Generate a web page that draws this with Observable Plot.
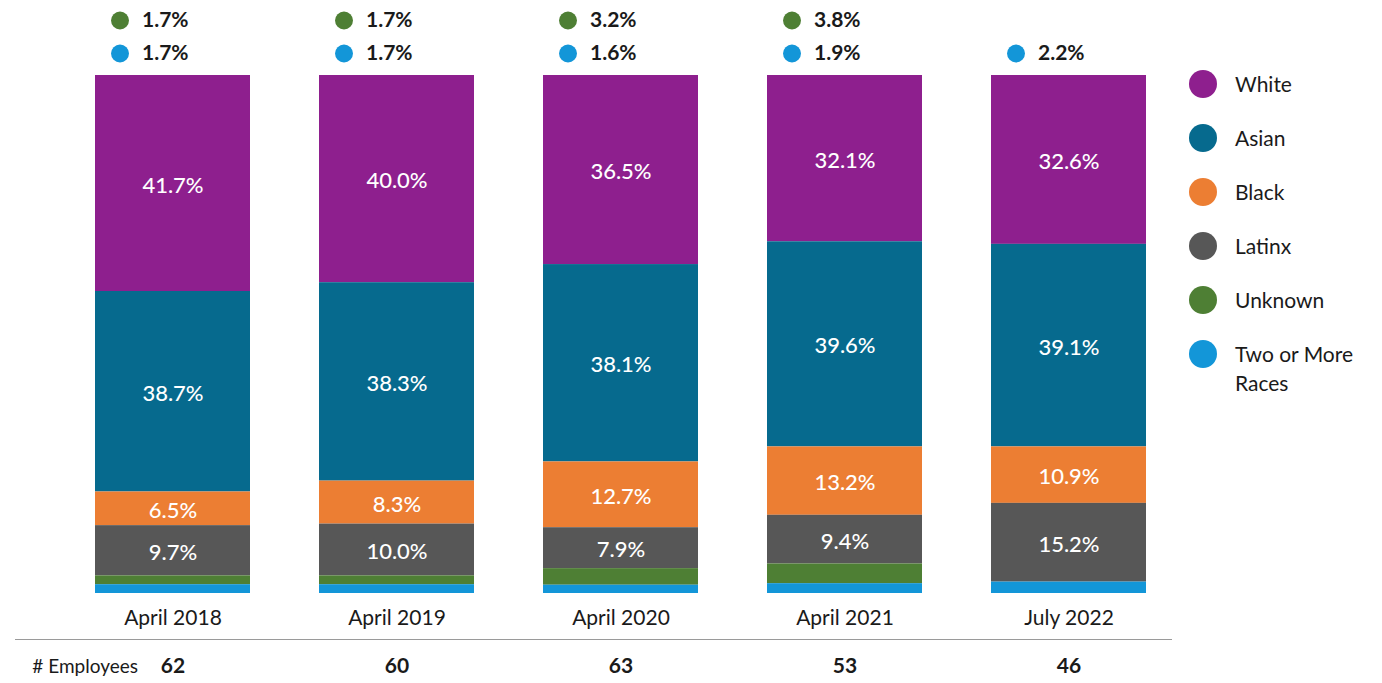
<!DOCTYPE html>
<html>
<head>
<meta charset="utf-8">
<script src="https://cdn.jsdelivr.net/npm/d3@7"></script>
<script src="https://cdn.jsdelivr.net/npm/@observablehq/plot@0.6"></script>
<style>
  html, body { margin: 0; padding: 0; background: #fff; }
  #wrap { position: relative; width: 1382px; height: 683px; font-family: Lato, "Open Sans", sans-serif; }
  #rule { position: absolute; left: 15px; width: 1157px; top: 639px; height: 0; border-top: 1.5px solid #9a9a9a; }
  #legend { position: absolute; left: 1189px; top: 70px; }
  .li { display: flex; align-items: flex-start; height: 54px; }
  .sw { width: 28px; height: 28px; border-radius: 50%; flex: none; }
  .lt { margin-left: 18px; margin-top: -1px; font-size: 21px; color: #1a1a1a; line-height: 29px; width: 140px; }
</style>
</head>
<body>
<div id="wrap"><div id="rule"></div><div id="legend"></div></div>
<script>
// ---- data ----
const periods = ["April 2018", "April 2019", "April 2020", "April 2021", "July 2022"];
const races = ["White", "Asian", "Black", "Latinx", "Unknown", "Two or More Races"];
const colors = ["#8E1F8E", "#066A8E", "#EC7E33", "#575757", "#4E7F34", "#1396D8"];
const white = [41.7, 40.0, 36.5, 32.1, 32.6];
const asian = [38.7, 38.3, 38.1, 39.6, 39.1];
const black = [6.5, 8.3, 12.7, 13.2, 10.9];
const latinx = [9.7, 10.0, 7.9, 9.4, 15.2];
const unknown = [1.7, 1.7, 3.2, 3.8, 0];
const twoOrMore = [1.7, 1.7, 1.6, 1.9, 2.2];
const employees = [62, 60, 63, 53, 46];

const series = [white, asian, black, latinx, unknown, twoOrMore];
const stackOrder = ["Two or More Races", "Unknown", "Latinx", "Black", "Asian", "White"];
const insideLabeled = new Set(["White", "Asian", "Black", "Latinx"]);

const rows = [];
periods.forEach((p, i) => races.forEach((r, j) => rows.push({period: p, race: r, value: series[j][i]})));

const fmt = v => v.toFixed(1) + "%";
const topRows = rows.filter(d => !insideLabeled.has(d.race) && d.value > 0);
const topUnknown = topRows.filter(d => d.race === "Unknown");
const topTwo = topRows.filter(d => d.race !== "Unknown");

const W = 1382, H = 683;
const labelStyle = {frameAnchor: "top", lineAnchor: "middle", textAnchor: "start", dx: -31, fontSize: 21, fontWeight: 700, fill: "#1a1a1a"};
const chart = Plot.plot({
  width: W,
  height: H,
  marginLeft: 95,
  marginRight: W - 1146,
  marginTop: 75,
  marginBottom: H - 593,
  style: {fontFamily: "Lato, 'Open Sans', sans-serif", background: "transparent"},
  x: {domain: periods, paddingInner: 0.31, paddingOuter: 0, label: null},
  y: {domain: [0, 100], axis: null},
  color: {domain: races, range: colors},
  marks: [
    Plot.barY(rows, Plot.stackY({x: "period", y: "value", z: "race", fill: "race", order: stackOrder})),
    Plot.text(rows, Plot.stackY({
      x: "period", y: "value", z: "race", order: stackOrder,
      text: d => insideLabeled.has(d.race) ? fmt(d.value) : "",
      fill: "white", fontSize: 22, fontWeight: 500, dy: 2
    })),
    Plot.dot(topUnknown, {x: "period", fill: "race", r: 9, frameAnchor: "top", dx: -53, dy: -55}),
    Plot.dot(topTwo, {x: "period", fill: "race", r: 9, frameAnchor: "top", dx: -53, dy: -22}),
    Plot.text(topUnknown, {x: "period", text: d => fmt(d.value), dy: -55, ...labelStyle}),
    Plot.text(topTwo, {x: "period", text: d => fmt(d.value), dy: -22, ...labelStyle}),
    Plot.axisX({tickSize: 0, tickPadding: 17, fontSize: 21, fill: "#1a1a1a"}),
    Plot.text(periods, {x: d => d, text: (d, i) => String(employees[i]), frameAnchor: "bottom", lineAnchor: "middle", dy: 73, fontSize: 21, fontWeight: 700, fill: "#1a1a1a"}),
    Plot.text([periods[0]], {x: d => d, text: () => "# Employees", frameAnchor: "bottom", lineAnchor: "middle", dy: 73, dx: -35, textAnchor: "end", fontSize: 19, fill: "#1a1a1a"})
  ]
});
chart.style.position = "absolute";
chart.style.left = "0";
chart.style.top = "0";
document.getElementById("wrap").prepend(chart);

const legend = d3.select("#legend");
races.forEach((r, i) => {
  const item = legend.append("div").attr("class", "li");
  item.append("div").attr("class", "sw").style("background", colors[i]);
  const t = item.append("div").attr("class", "lt");
  if (r === "Two or More Races") t.html("Two or More<br>Races"); else t.text(r);
});
</script>
</body>
</html>
